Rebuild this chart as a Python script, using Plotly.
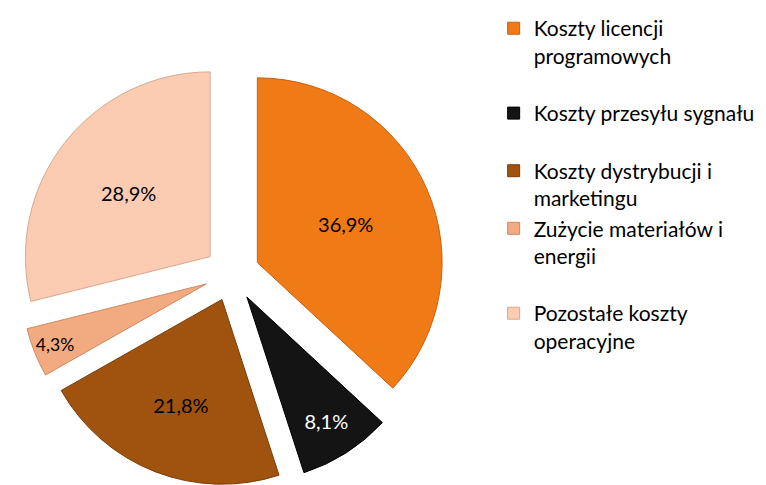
import plotly.graph_objects as go

labels = [
    "Koszty licencji<br>programowych",
    "Koszty przesyłu sygnału",
    "Koszty dystrybucji i<br>marketingu",
    "Zużycie materiałów i<br>energii",
    "Pozostałe koszty<br>operacyjne",
]
values = [36.9, 8.1, 21.8, 4.3, 28.9]
colors = ["#F07A16", "#141414", "#A0520F", "#F2AA80", "#FBCBB2"]
edge_colors = ["#C86010", "#000000", "#7A3D0A", "#D08860", "#D8A890"]
text_colors = ["black", "white", "black", "black", "black"]

# extra blank lines after some legend entries to mimic the reference spacing
legend_pad = [1, 1, 0, 1, 0]
legend_labels = [lab + "<br> " * p for lab, p in zip(labels, legend_pad)]

fig = go.Figure(go.Pie(
    labels=legend_labels,
    values=values,
    sort=False,
    direction="clockwise",
    rotation=0,
    pull=[0.15] * len(values),
    marker=dict(colors=colors, line=dict(color=edge_colors, width=1)),
    texttemplate="%{value:.1f}%",
    textposition="inside",
    insidetextorientation="horizontal",
    textfont=dict(size=20, color=text_colors, family="Lato"),
    domain=dict(x=[0.0117, 0.5731], y=[0.0144, 0.9014]),
    hovertemplate="%{label}: %{value:.1f}%<extra></extra>",
))

fig.update_layout(
    width=766, height=485,
    margin=dict(l=0, r=0, t=0, b=0),
    paper_bgcolor="white",
    plot_bgcolor="white",
    separators=", ",
    font=dict(family="Lato", size=21, color="black"),
    showlegend=True,
    legend=dict(
        x=0.634, y=1.0124, xanchor="left", yanchor="top",
        valign="top",
        maxheight=485,
        font=dict(family="Lato", size=21, color="black"),
        itemwidth=30,
        bgcolor="rgba(0,0,0,0)",
    ),
)

fig.write_html("out.html")
